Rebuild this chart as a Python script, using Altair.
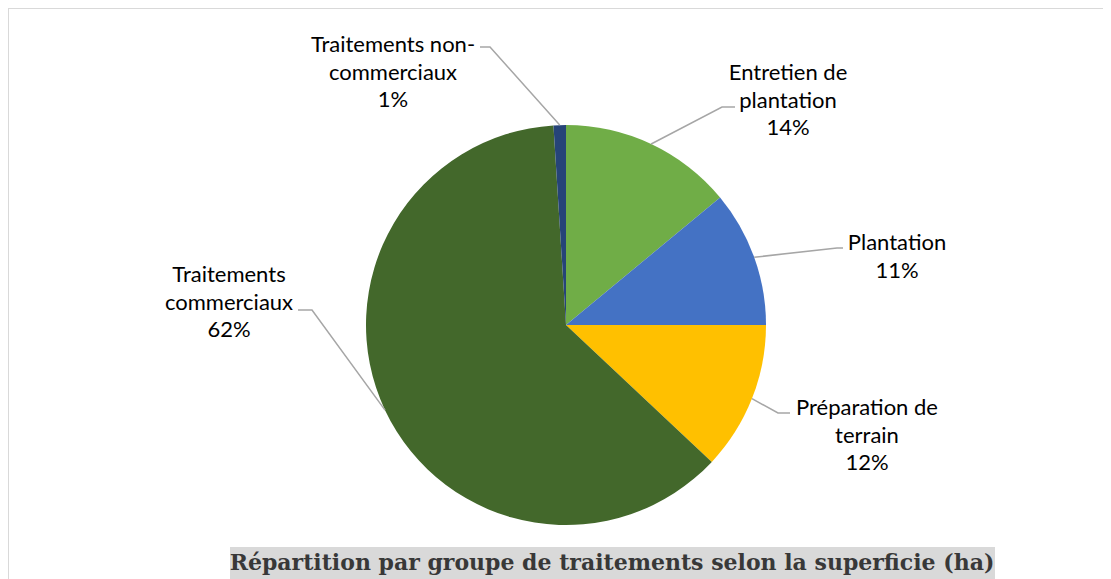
import math
import altair as alt
import pandas as pd

# ---- data ----
categories = ["Entretien de plantation", "Plantation", "Préparation de terrain",
              "Traitements commerciaux", "Traitements non-commerciaux"]
label_lines = ["Entretien de\nplantation", "Plantation", "Préparation de\nterrain",
               "Traitements\ncommerciaux", "Traitements non-\ncommerciaux"]
shares = [14, 11, 12, 62, 1]
colors = ["#70AD47", "#4472C4", "#FFC000", "#43682B", "#264478"]
title_text = "Répartition par groupe de traitements selon la superficie (ha)"

# ---- layout (pixels in chart coordinates) ----
CX, CY, R = 558, 317, 200
W, H = 1095, 571
label_pos = [(780, 65), (889, 235), (859, 400), (221, 267), (385, 37)]  # first-line centre
elbows = [((714, 99), (727, 99)), ((829, 240), (835, 240)), ((770, 405), (782, 405)),
          ((304, 302), (290, 302)), ((482, 39), (472, 39))]

df = pd.DataFrame({"cat": categories, "share": shares, "idx": list(range(len(categories)))})
df["label"] = [f"{l}\n{s}%" for l, s in zip(label_lines, shares)]
df["lx"] = [p[0] for p in label_pos]
df["ly"] = [p[1] for p in label_pos]

# leader lines: start at the slice's mid-angle on the circle
total = sum(shares)
rows = []
cum = 0
for i, (c, s) in enumerate(zip(categories, shares)):
    mid = (cum + s / 2) / total * 2 * math.pi
    cum += s
    sx = CX + R * math.sin(mid)
    sy = CY - R * math.cos(mid)
    pts = [(sx, sy), elbows[i][0], elbows[i][1]]
    for k, (px, py) in enumerate(pts):
        rows.append({"cat": c, "o": k, "px": px, "py": py})
lines_df = pd.DataFrame(rows)

color_scale = alt.Scale(domain=categories, range=colors)

pie = alt.Chart(df).mark_arc(radius=R).encode(
    theta=alt.Theta("share:Q", stack=True),
    color=alt.Color("cat:N", scale=color_scale, legend=None),
    order=alt.Order("idx:Q", sort="ascending"),
    x=alt.value(CX),
    y=alt.value(CY),
)

leaders = alt.Chart(lines_df).mark_line(color="#A6A6A6", strokeWidth=1.5).encode(
    x=alt.X("px:Q", scale=None),
    y=alt.Y("py:Q", scale=None),
    detail="cat:N",
    order="o:Q",
)

labels = alt.Chart(df).mark_text(
    font="Lato", fontSize=22, color="#000000", align="center", baseline="middle",
    lineBreak="\n", lineHeight=27.5,
).encode(
    x=alt.X("lx:Q", scale=None),
    y=alt.Y("ly:Q", scale=None),
    text="label:N",
)

title_df = pd.DataFrame({"t": [title_text]})
title_box = alt.Chart(title_df).mark_rect(color="#D9D9D9").encode(
    x=alt.value(222), x2=alt.value(987), y=alt.value(539), y2=alt.value(H),
)
title = alt.Chart(title_df).mark_text(
    font="DejaVu Serif", fontSize=22, fontWeight="bold", color="#383838",
    align="center", baseline="middle",
).encode(x=alt.value(604), y=alt.value(555), text="t:N")

border_top = alt.Chart(title_df).mark_rule(color="#D9D9D9", strokeWidth=2).encode(
    x=alt.value(0), x2=alt.value(W), y=alt.value(0), y2=alt.value(0))
border_left = alt.Chart(title_df).mark_rule(color="#D9D9D9", strokeWidth=2).encode(
    x=alt.value(0), x2=alt.value(0), y=alt.value(0), y2=alt.value(H))

chart = alt.layer(border_top, border_left, pie, leaders, labels, title_box, title).properties(
    width=W, height=H, padding=0, autosize=alt.AutoSizeParams(type="none"),
).configure_view(stroke=None)

chart.save("out.html", embed_options={"renderer": "svg", "actions": False})
